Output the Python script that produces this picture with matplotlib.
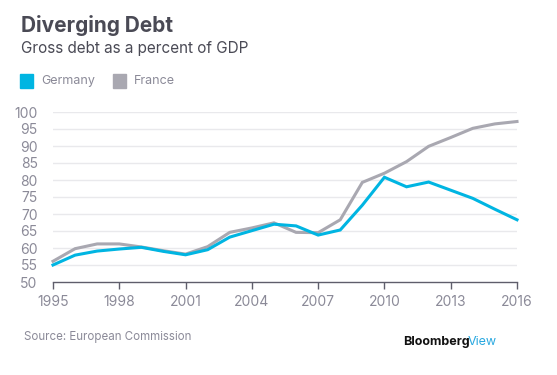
import matplotlib
matplotlib.use('Agg')
import matplotlib.pyplot as plt
from matplotlib.patches import Rectangle

plt.rcParams['font.family'] = ['Inter', 'DejaVu Sans']

# Data
years = list(range(1995, 2017))
germany = [55.0, 57.9, 59.1, 59.7, 60.2, 59.0, 58.0, 59.5, 63.2, 65.1, 67.0,
           66.5, 63.8, 65.3, 72.6, 80.8, 78.0, 79.4, 77.0, 74.6, 71.4, 68.3]
france = [56.1, 59.8, 61.2, 61.2, 60.3, 59.2, 58.2, 60.4, 64.6, 65.9, 67.4,
          64.6, 64.5, 68.3, 79.3, 82.0, 85.4, 89.9, 92.5, 95.2, 96.5, 97.2]
xticks = [1995, 1998, 2001, 2004, 2007, 2010, 2013, 2016]
yticks = list(range(50, 101, 5))

GER_COL = '#00b5e2'
FRA_COL = '#a9a8b1'
TXT = '#4a4a55'
TICK_TXT = '#8b8a98'

fig = plt.figure(figsize=(5.57, 3.75), dpi=100)
ax = fig.add_axes([53 / 557, 1 - 282 / 375, 464 / 557, 170 / 375])

for y in yticks[1:]:
    ax.axhline(y, color='#e9e9ec', lw=1, zorder=0)

ax.plot(years, germany, color=GER_COL, lw=2.2, solid_joinstyle='miter', zorder=3, clip_on=False)
ax.plot(years, france, color=FRA_COL, lw=2.2, solid_joinstyle='miter', zorder=2, clip_on=False)

ax.set_xlim(1995, 2016)
ax.set_ylim(50, 100)
ax.set_xticks(xticks)
ax.set_yticks(yticks)
for s in ['top', 'right', 'left']:
    ax.spines[s].set_visible(False)
ax.spines['bottom'].set_color('#5f5e6b')
ax.spines['bottom'].set_linewidth(1)
ax.tick_params(axis='x', direction='out', length=5, width=1, color='#5f5e6b',
               labelsize=10, labelcolor=TICK_TXT, pad=4)
ax.tick_params(axis='y', length=0, labelsize=10, labelcolor=TICK_TXT, pad=11)
ax.set_facecolor('none')

# Titles
fig.text(21 / 557, 1 - 25 / 375, 'Diverging Debt', fontsize=15, fontweight='bold',
         color=TXT, va='center', ha='left')
fig.text(21 / 557, 1 - 48 / 375, 'Gross debt as a percent of GDP', fontsize=11,
         color=TXT, va='center', ha='left')

# Legend
fig.patches.append(Rectangle((20 / 557, 1 - 88 / 375), 13 / 557, 14 / 375,
                             transform=fig.transFigure, color=GER_COL))
fig.text(41 / 557, 1 - 81 / 375, 'Germany', fontsize=9, color=TICK_TXT, va='center')
fig.patches.append(Rectangle((113 / 557, 1 - 88 / 375), 13 / 557, 14 / 375,
                             transform=fig.transFigure, color=FRA_COL))
fig.text(134 / 557, 1 - 81 / 375, 'France', fontsize=9, color=TICK_TXT, va='center')

# Footer
fig.text(24 / 557, 1 - 337 / 375, 'Source: European Commission', fontsize=8.3,
         color=TICK_TXT, va='center')
fig.text(403 / 557, 1 - 342 / 375, 'Bloomberg', fontsize=9, fontweight='bold',
         color='#111111', va='center')
fig.text(468 / 557, 1 - 342 / 375, 'View', fontsize=9, color='#29a8e0', va='center')

fig.savefig('out.png', dpi=100)
